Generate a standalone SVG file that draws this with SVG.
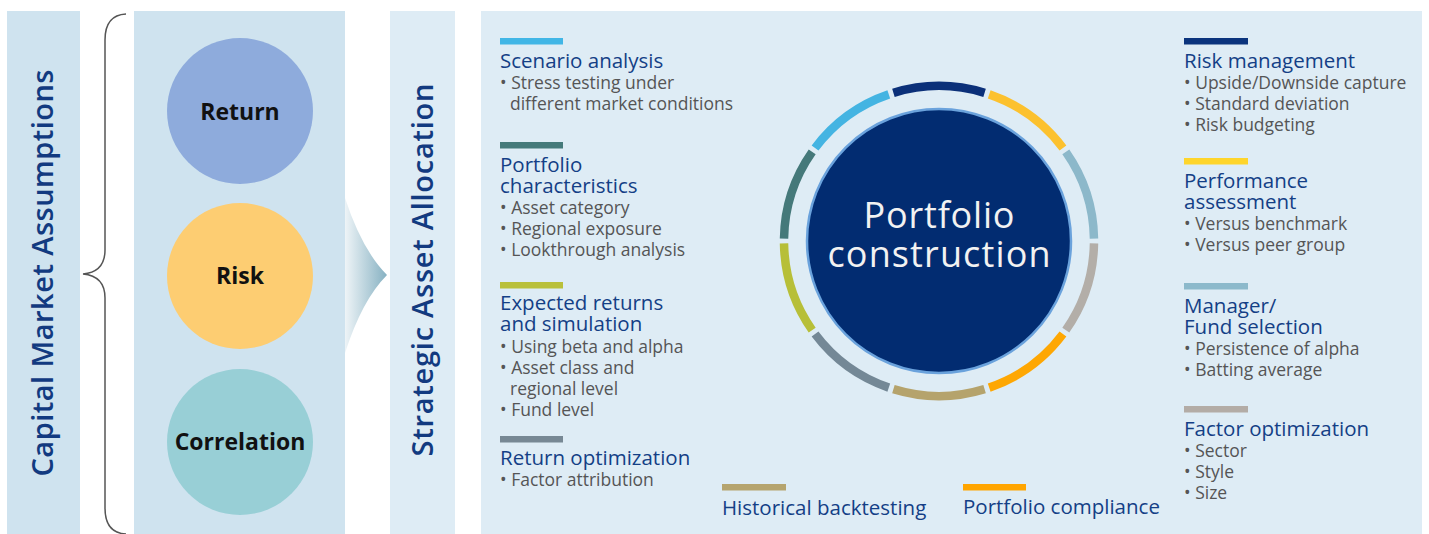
<svg xmlns="http://www.w3.org/2000/svg" width="1429" height="534" viewBox="0 0 1429 534">
<defs>
<linearGradient id="chev" x1="0" y1="0" x2="1" y2="0">
<stop offset="0" stop-color="#eef4f7"/>
<stop offset="1" stop-color="#86b1c2"/>
</linearGradient>
<style>
.vt{font-family:"Open Sans","Noto Sans",sans-serif;font-size:29px;font-weight:600;fill:#123a80}
.cl{font-family:"Open Sans","Noto Sans",sans-serif;font-size:23px;font-weight:700;fill:#111111;text-anchor:middle}
.h{font-family:"Open Sans","Noto Sans",sans-serif;font-size:20.5px;font-weight:500;fill:#143f86}
.b{font-family:"Open Sans","Noto Sans",sans-serif;font-size:17.5px;fill:#555555}
.pc{font-family:"Open Sans","Noto Sans",sans-serif;font-size:36px;fill:#f2f2f2;text-anchor:middle}
.seg{fill:none;stroke-width:8.5}
</style>
</defs>
<rect width="1429" height="534" fill="#ffffff"/>
<g id="panel-cma">
<rect x="7" y="11" width="73" height="523" fill="#cfe3ef"/>
<text class="vt" transform="translate(53,273) rotate(-90)" text-anchor="middle" textLength="407">Capital Market Assumptions</text>
</g>
<g id="connectors">
<path d="M126,14 Q105,15 105,40 L105,250 Q105,272 83,274 Q105,276 105,298 L105,508 Q105,533 126,534" fill="none" stroke="#555555" stroke-width="1.5"/>
<path d="M345,198 Q362,250 387,275 Q362,300 345,353 Z" fill="url(#chev)"/>
</g>
<g id="panel-factors">
<rect x="134" y="11" width="211" height="523" fill="#cfe3ef"/>
</g>
<g id="node-return">
<circle cx="240" cy="111" r="73" fill="#8eabdc"/>
<text class="cl" x="240" y="120">Return</text>
</g>
<g id="node-risk">
<circle cx="240" cy="276" r="73" fill="#fdcd72"/>
<text class="cl" x="240" y="284">Risk</text>
</g>
<g id="node-correlation">
<circle cx="240" cy="442" r="73" fill="#98cfd6"/>
<text class="cl" x="240" y="450">Correlation</text>
</g>
<g id="panel-saa">
<rect x="390" y="11" width="65" height="523" fill="#deecf5"/>
<text class="vt" transform="translate(433,270) rotate(-90)" text-anchor="middle" textLength="373">Strategic Asset Allocation</text>
</g>
<g id="panel-main">
<rect x="481" y="11" width="941" height="523" fill="#deecf5"/>
</g>
<g id="node-portfolio-construction">
<path class="seg" stroke="#0b3079" d="M893.42,92.85 A155,155 0 0 1 984.58,92.85"/>
<path class="seg" stroke="#fcc12e" d="M989.21,94.36 A155,155 0 0 1 1062.95,147.93"/>
<path class="seg" stroke="#8cb8ca" d="M1065.81,151.87 A155,155 0 0 1 1093.98,238.57"/>
<path class="seg" stroke="#b3aea8" d="M1093.98,243.43 A155,155 0 0 1 1065.81,330.13"/>
<path class="seg" stroke="#fea703" d="M1062.95,334.07 A155,155 0 0 1 989.21,387.64"/>
<path class="seg" stroke="#b5a36c" d="M984.58,389.15 A155,155 0 0 1 893.42,389.15"/>
<path class="seg" stroke="#748896" d="M888.79,387.64 A155,155 0 0 1 815.05,334.07"/>
<path class="seg" stroke="#b7bf38" d="M812.19,330.13 A155,155 0 0 1 784.02,243.43"/>
<path class="seg" stroke="#45797a" d="M784.02,238.57 A155,155 0 0 1 812.19,151.87"/>
<path class="seg" stroke="#44b4e2" d="M815.05,147.93 A155,155 0 0 1 888.79,94.36"/>
<circle cx="939" cy="241" r="132" fill="#022c71" stroke="#6aa2dc" stroke-width="2.5"/>
<text class="pc" x="939" y="228" textLength="151">Portfolio</text>
<text class="pc" x="939" y="267" textLength="223">construction</text>
</g>
<g id="node-scenario">
<rect x="500" y="38" width="63" height="6.5" fill="#41b6e6"/>
<text class="h" x="500" y="68">Scenario analysis</text>
<text class="b" x="500" y="89">• Stress testing under</text>
<text class="b" x="510" y="110">different market conditions</text>
</g>
<g id="node-portfolio-characteristics">
<rect x="500" y="142" width="63" height="6.5" fill="#457a7a"/>
<text class="h" x="500" y="172">Portfolio</text>
<text class="h" x="500" y="193">characteristics</text>
<text class="b" x="500" y="214">• Asset category</text>
<text class="b" x="500" y="235">• Regional exposure</text>
<text class="b" x="500" y="256">• Lookthrough analysis</text>
</g>
<g id="node-expected-returns">
<rect x="500" y="282" width="63" height="6.5" fill="#b9c03a"/>
<text class="h" x="500" y="310">Expected returns</text>
<text class="h" x="500" y="331">and simulation</text>
<text class="b" x="500" y="353">• Using beta and alpha</text>
<text class="b" x="500" y="374">• Asset class and</text>
<text class="b" x="510" y="395">regional level</text>
<text class="b" x="500" y="416">• Fund level</text>
</g>
<g id="node-return-optimization">
<rect x="500" y="436" width="63" height="6.5" fill="#778894"/>
<text class="h" x="500" y="465">Return optimization</text>
<text class="b" x="500" y="486">• Factor attribution</text>
</g>
<g id="node-historical-backtesting">
<rect x="722" y="484" width="64" height="6.5" fill="#b5a46e"/>
<text class="h" x="722" y="515">Historical backtesting</text>
</g>
<g id="node-portfolio-compliance">
<rect x="963" y="484" width="63" height="6.5" fill="#ffa500"/>
<text class="h" x="963" y="514">Portfolio compliance</text>
</g>
<g id="node-risk-management">
<rect x="1184" y="38" width="64" height="6.5" fill="#0b347d"/>
<text class="h" x="1184" y="68">Risk management</text>
<text class="b" x="1184" y="89">• Upside/Downside capture</text>
<text class="b" x="1184" y="110">• Standard deviation</text>
<text class="b" x="1184" y="131">• Risk budgeting</text>
</g>
<g id="node-performance">
<rect x="1184" y="158" width="64" height="6.5" fill="#fed52c"/>
<text class="h" x="1184" y="188">Performance</text>
<text class="h" x="1184" y="209">assessment</text>
<text class="b" x="1184" y="230">• Versus benchmark</text>
<text class="b" x="1184" y="251">• Versus peer group</text>
</g>
<g id="node-manager">
<rect x="1184" y="283" width="64" height="6.5" fill="#8cb9cb"/>
<text class="h" x="1184" y="313">Manager/</text>
<text class="h" x="1184" y="334">Fund selection</text>
<text class="b" x="1184" y="355">• Persistence of alpha</text>
<text class="b" x="1184" y="376">• Batting average</text>
</g>
<g id="node-factor-optimization">
<rect x="1184" y="406" width="64" height="6.5" fill="#b3aca6"/>
<text class="h" x="1184" y="436">Factor optimization</text>
<text class="b" x="1184" y="457">• Sector</text>
<text class="b" x="1184" y="478">• Style</text>
<text class="b" x="1184" y="499">• Size</text>
</g>
</svg>
